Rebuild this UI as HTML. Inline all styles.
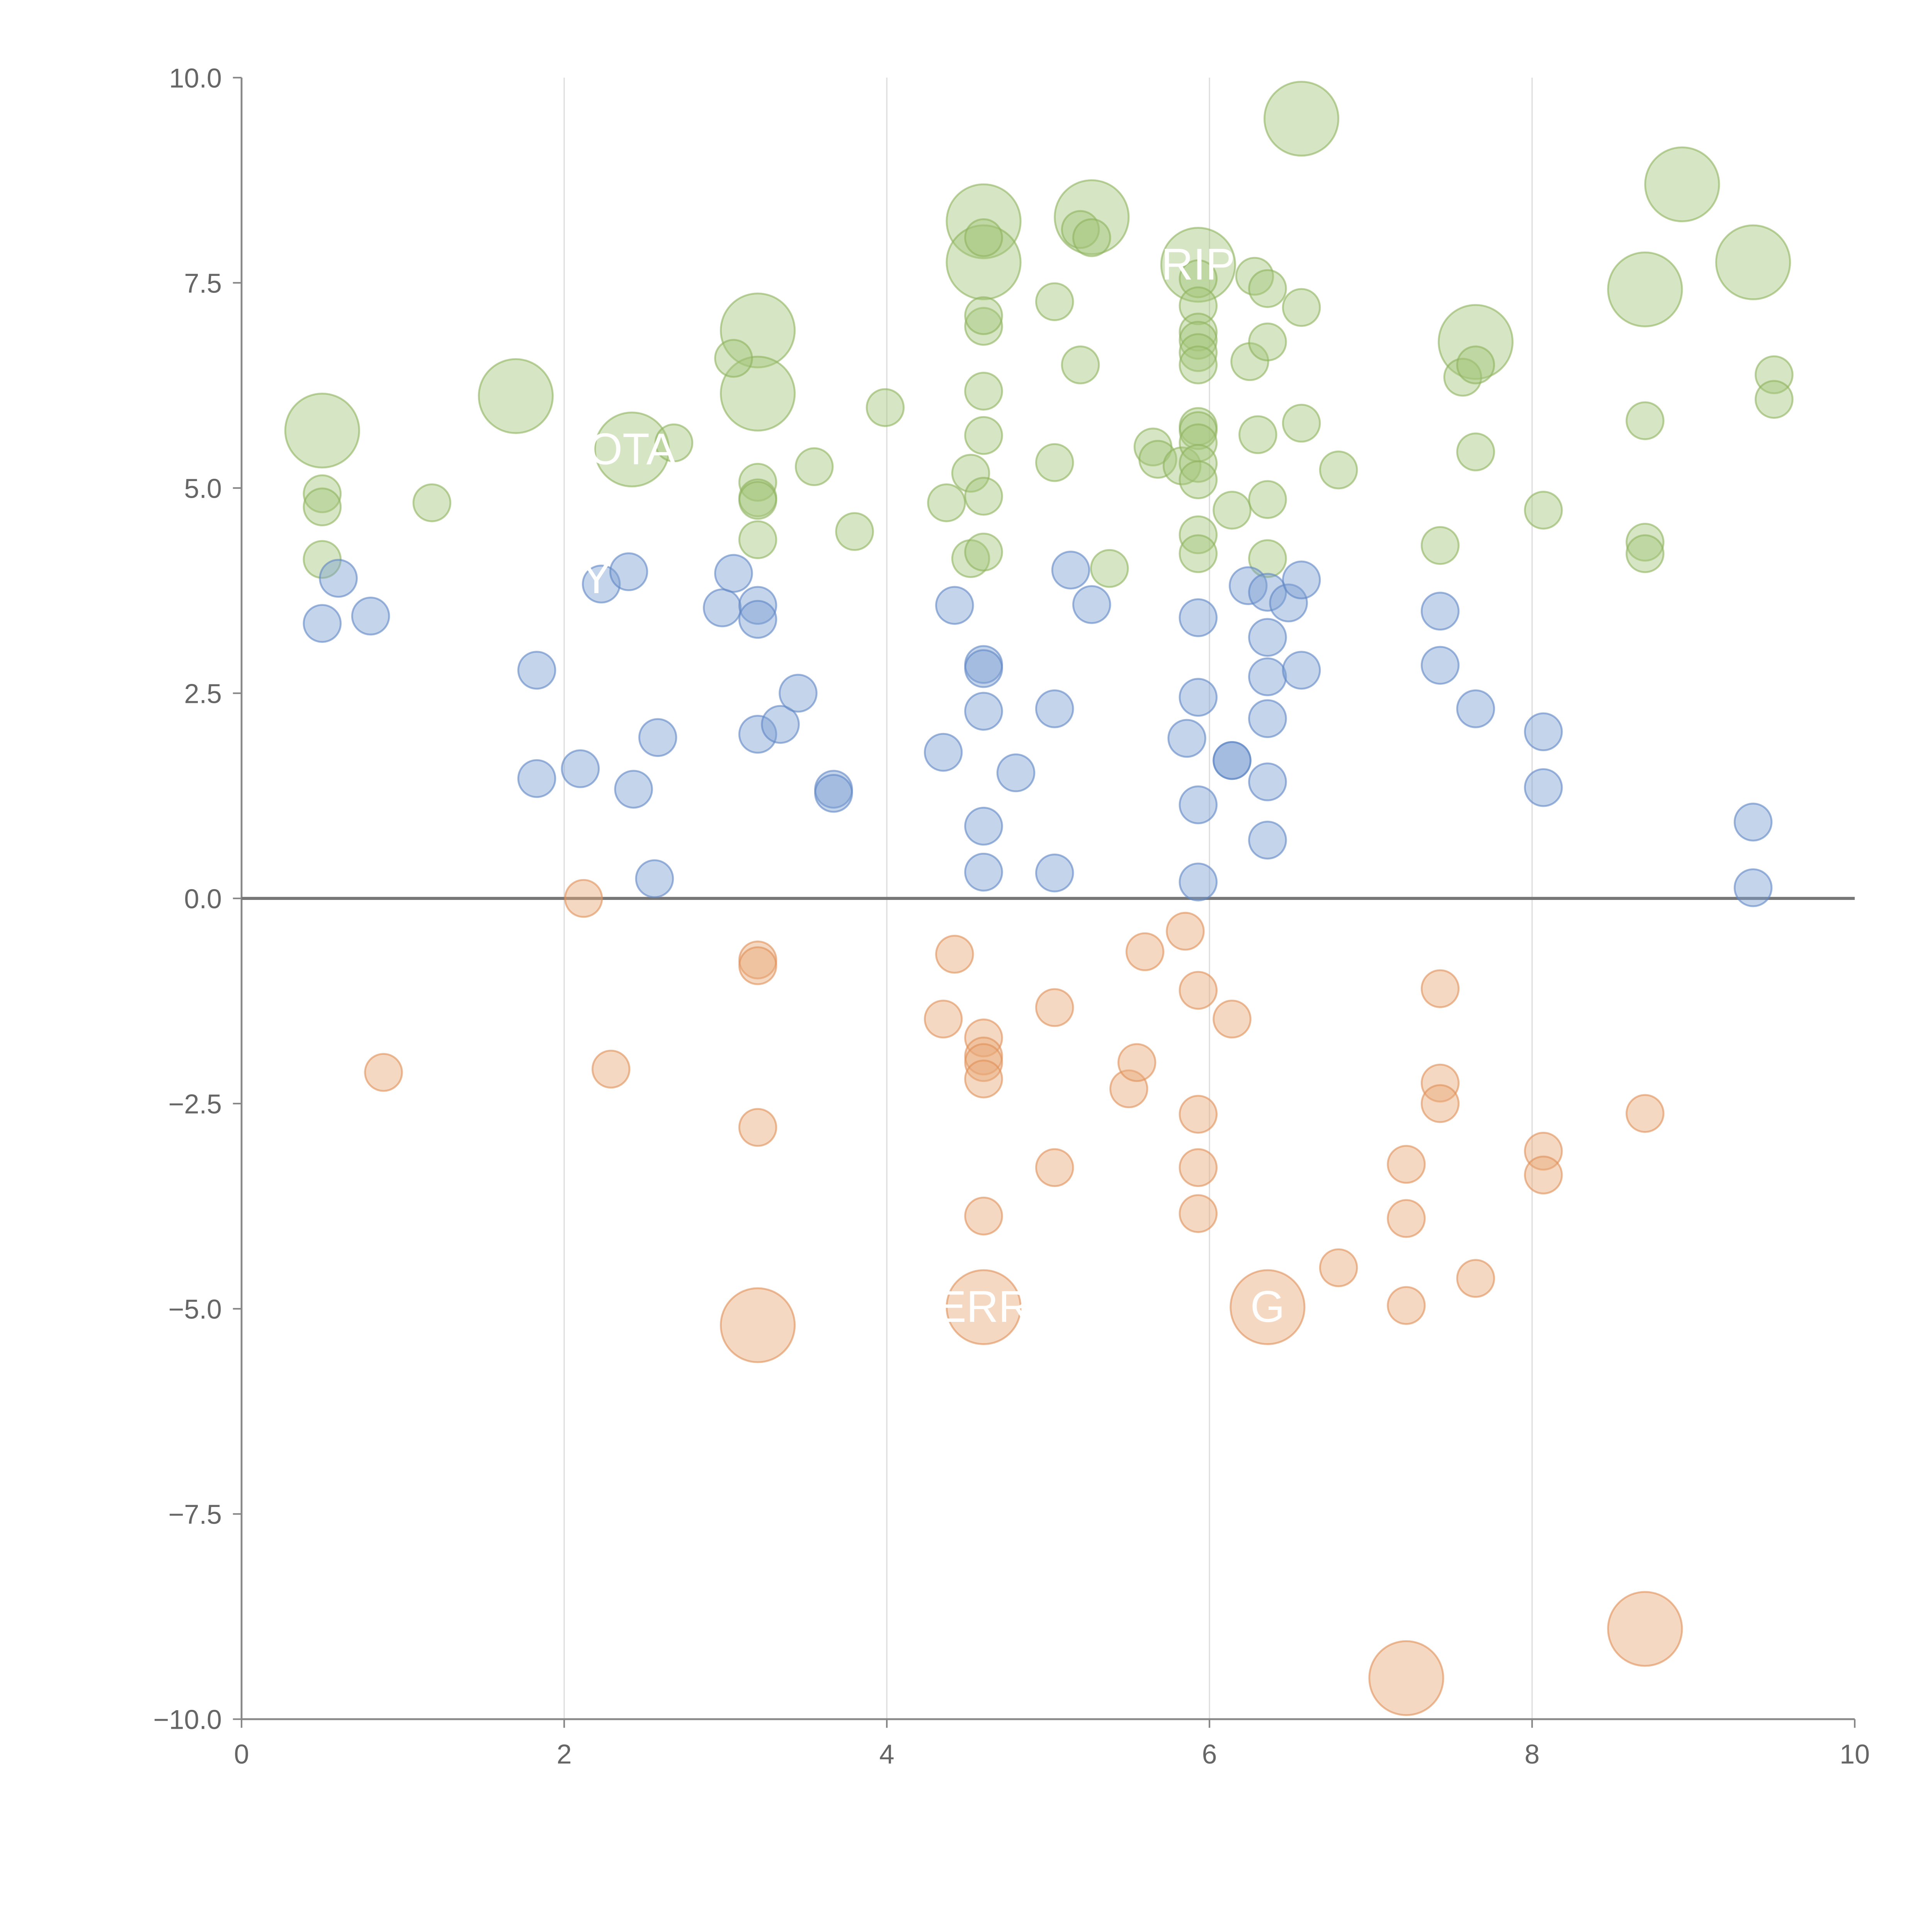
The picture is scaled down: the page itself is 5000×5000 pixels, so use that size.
<!DOCTYPE html>
<html><head><meta charset="utf-8">
<style>html,body{margin:0;padding:0;background:#fff}svg{display:block}</style>
</head><body>
<svg id="chart" width="5000" height="5000" viewBox="0 0 1567.7 1567.7" xmlns="http://www.w3.org/2000/svg" font-family="Liberation Sans, sans-serif">
<g id="grid"></g>
<g id="axes"></g>
<g id="marks"></g>
<g id="labels"></g>
</svg>
<script>
const greenX=[0.5,1.7,2.42,3.2,3.2,4.6,4.6,5.27,5.93,6.57,7.65,8.7,8.93,9.37,0.5,0.5,0.5,1.18,2.68,3.05,3.2,3.2,3.2,3.2,3.55,3.8,3.99,4.37,4.52,4.52,4.6,4.6,4.6,4.6,4.6,4.6,4.6,5.04,5.04,5.2,5.2,5.27,5.38,5.65,5.68,5.83,5.93,5.93,5.93,5.93,5.93,5.93,5.93,5.93,5.93,5.93,5.93,5.93,5.93,6.14,6.25,6.28,6.3,6.36,6.36,6.36,6.36,6.57,6.57,6.8,7.43,7.57,7.65,7.65,8.07,8.7,8.7,8.7,9.5,9.5];
const greenY=[5.7,6.12,5.47,6.92,6.15,8.25,7.75,8.3,7.72,9.5,6.78,7.42,8.7,7.75,4.93,4.77,4.13,4.82,5.55,6.58,5.07,4.88,4.85,4.37,5.26,4.47,5.98,4.82,5.18,4.14,4.22,4.9,5.64,6.18,6.97,7.1,8.05,7.27,5.31,6.5,8.15,8.05,4.02,5.5,5.35,5.27,7.55,7.22,6.9,6.8,6.65,6.5,5.75,5.7,5.55,5.3,5.1,4.43,4.2,4.73,6.54,7.58,5.65,7.43,6.78,4.86,4.14,7.2,5.79,5.22,4.3,6.35,6.5,5.44,4.73,5.82,4.34,4.2,6.38,6.08];
const greenSize=[2,2,2,2,2,2,2,2,2,2,2,2,2,2,1,1,1,1,1,1,1,1,1,1,1,1,1,1,1,1,1,1,1,1,1,1,1,1,1,1,1,1,1,1,1,1,1,1,1,1,1,1,1,1,1,1,1,1,1,1,1,1,1,1,1,1,1,1,1,1,1,1,1,1,1,1,1,1,1,1];
const blueX=[0.5,0.6,0.8,1.83,1.83,2.1,2.23,2.4,2.43,2.56,2.58,2.98,3.05,3.2,3.2,3.2,3.34,3.45,3.67,3.67,4.35,4.42,4.6,4.6,4.6,4.6,4.6,4.8,5.04,5.04,5.14,5.27,5.86,5.93,5.93,5.93,5.93,6.14,6.14,6.24,6.36,6.36,6.36,6.36,6.36,6.36,6.49,6.57,6.57,7.43,7.43,7.65,8.07,8.07,9.37,9.37];
const blueY=[3.35,3.9,3.44,2.78,1.46,1.58,3.83,3.98,1.33,0.24,1.96,3.54,3.96,3.57,3.4,2.0,2.12,2.5,1.33,1.28,1.78,3.57,2.85,2.8,2.28,0.88,0.32,1.53,2.31,0.31,4.0,3.58,1.95,3.42,2.45,1.14,0.2,1.68,1.68,3.81,3.73,3.18,2.7,2.19,1.42,0.71,3.6,3.88,2.78,2.84,3.5,2.31,2.03,1.35,0.93,0.13];
const orangeX=[3.2,4.6,6.36,7.22,8.7,0.88,2.12,2.29,3.2,3.2,3.2,4.35,4.42,4.6,4.6,4.6,4.6,4.6,5.04,5.04,5.5,5.55,5.6,5.85,5.93,5.93,5.93,5.93,6.14,6.8,7.22,7.22,7.22,7.43,7.43,7.43,7.65,8.07,8.07,8.7];
const orangeY=[-5.2,-4.98,-4.98,-9.5,-8.9,-2.12,0.0,-2.08,-0.75,-0.82,-2.79,-1.47,-0.68,-1.7,-1.92,-2.0,-2.2,-3.87,-1.33,-3.28,-2.32,-2.0,-0.65,-0.4,-1.12,-2.63,-3.28,-3.84,-1.47,-4.5,-3.24,-3.9,-4.96,-1.1,-2.25,-2.5,-4.63,-3.08,-3.37,-2.62];
const orangeSize=[2,2,2,2,2,1,1,1,1,1,1,1,1,1,1,1,1,1,1,1,1,1,1,1,1,1,1,1,1,1,1,1,1,1,1,1,1,1,1,1];
const xTicks=[0,2,4,6,8,10];
const yTicks=[-10,-7.5,-5,-2.5,0,2.5,5,7.5,10];
const labelText=["RIP","OTA","ERR","G","Y"];
const labelX=[5.93,2.42,4.6,6.36,2.2];
const labelY=[7.72,5.47,-4.98,-4.98,3.9];

const X0=196,X1=1505,Y0=1395,Y1=63;
const sx=v=>X0+(v-0)/(10-0)*(X1-X0);
const sy=v=>Y0-(v+10)/20*(Y0-Y1);
const NS="http://www.w3.org/2000/svg";
function mk(tag,attrs,parent){const e=document.createElementNS(NS,tag);for(const k in attrs)e.setAttribute(k,attrs[k]);parent.appendChild(e);return e;}
const grid=document.getElementById('grid'),axes=document.getElementById('axes'),marks=document.getElementById('marks'),labels=document.getElementById('labels');
xTicks.forEach(t=>{
  if(t>0&&t<10){const l=mk('line',{x1:sx(t),x2:sx(t),y1:Y1,y2:Y0,stroke:'#dddddd','stroke-width':1},grid);
  
  }
  const tk=mk('line',{x1:sx(t),x2:sx(t),y1:Y0,y2:Y0+7,stroke:'#888','stroke-width':1.3},axes);
  
  
  const tx=mk('text',{x:sx(t),y:Y0+36,'text-anchor':'middle','font-size':22,fill:'#666'},axes);tx.textContent=String(t);
  
  
});
yTicks.forEach(t=>{
  const tk=mk('line',{x1:X0-7,x2:X0,y1:sy(t),y2:sy(t),stroke:'#888','stroke-width':1.3},axes);
  
  
  const tx=mk('text',{x:X0-16,y:sy(t)+8,'text-anchor':'end','font-size':22,fill:'#666'},axes);tx.textContent=(t<0?'\u2212':'')+Math.abs(t).toFixed(1);
  
  
});
const xa=mk('line',{x1:X0,x2:X1,y1:Y0,y2:Y0,stroke:'#888','stroke-width':1.5},axes);


const ya=mk('line',{x1:X0,x2:X0,y1:Y1,y2:Y0,stroke:'#888','stroke-width':1.5},axes);


const zl=mk('line',{x1:X0,x2:X1,y1:sy(0),y2:sy(0),stroke:'#777','stroke-width':2.5},axes);


function series(xs,ys,sz,fill,stroke,name){
  xs.forEach((x,i)=>{
    const r=(sz?sz[i]:1)===2?30:15;
    const c=mk('circle',{cx:sx(x),cy:sy(ys[i]),r:r,fill:fill,'fill-opacity':0.45,stroke:stroke,'stroke-opacity':0.6,'stroke-width':1.5},marks);
    
    
  });
}
series(greenX,greenY,greenSize,'#a4c57a','#8db35e','green-bubble');
series(blueX,blueY,null,'#7d9fd3','#5f86c4','blue-bubble');
series(orangeX,orangeY,orangeSize,'#e8a878','#df9057','orange-bubble');
labelText.forEach((s,i)=>{
  const t=mk('text',{x:sx(labelX[i]),y:sy(labelY[i])+12,'text-anchor':'middle','font-size':36,fill:'#fff'},labels);t.textContent=s;
  
  
});
</script>
</body></html>
